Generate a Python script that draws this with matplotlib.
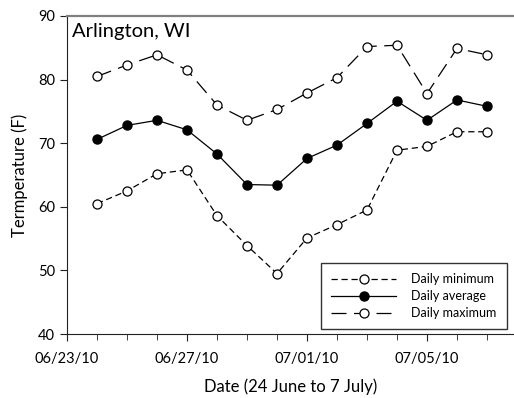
import numpy as np
import matplotlib
matplotlib.use('Agg')
import matplotlib.pyplot as plt
import matplotlib.dates as mdates
import datetime as dt

# daily temps at Arlington, WI, 24 June - 7 July 2010
days = [dt.date(2010, 6, 24) + dt.timedelta(days=i) for i in range(14)]
t_min = [60.5, 62.5, 65.2, 65.8, 58.6, 53.9, 49.5, 55.1, 57.2, 59.5, 68.9, 69.5, 71.8, 71.8]
t_avg = [70.6, 72.8, 73.6, 72.1, 68.3, 63.5, 63.4, 67.6, 69.7, 73.1, 76.6, 73.6, 76.8, 75.8]
t_max = [80.5, 82.3, 83.9, 81.5, 76.0, 73.6, 75.3, 77.9, 80.3, 85.2, 85.4, 77.8, 84.9, 83.9]

plt.rcParams['font.family'] = ['Lato', 'DejaVu Sans']

fig = plt.figure(figsize=(5.14, 3.98), dpi=100)
ax = fig.add_axes([0.1304, 0.1608, 0.8696, 0.799])

ax.plot(days, t_min, color='black', lw=0.9, dashes=(5, 3), marker='o', ms=6.5,
        mfc='white', mec='black', mew=0.9, label='Daily minimum')
ax.plot(days, t_avg, color='black', lw=0.9, marker='o', ms=6.5,
        mfc='black', mec='black', label='Daily average')
ax.plot(days, t_max, color='black', lw=0.9, dashes=(12, 6), marker='o', ms=6.5,
        mfc='white', mec='black', mew=0.9, label='Daily maximum')

ax.set_ylim(40, 90)
ax.set_yticks([40, 50, 60, 70, 80, 90])
start = mdates.date2num(dt.date(2010, 6, 23))
ax.set_xlim(start, start + 14.9)
ax.xaxis.set_major_locator(mdates.DayLocator(bymonthday=[23, 27, 1, 5]))
ax.xaxis.set_minor_locator(mdates.DayLocator())
ax.xaxis.set_major_formatter(mdates.DateFormatter('%m/%d/%y'))

ax.tick_params(axis='both', which='both', direction='out', labelsize=10.5, color='#222222')
ax.tick_params(axis='both', which='major', length=5)
ax.tick_params(axis='x', which='minor', length=4)
ax.tick_params(axis='x', pad=8)

ax.spines['right'].set_visible(False)
ax.spines['top'].set_color('#808080')
ax.spines['top'].set_linewidth(1.6)
ax.spines['left'].set_color('#222222')
ax.spines['bottom'].set_color('#222222')

ax.set_ylabel('Termperature (F)', fontsize=12, labelpad=7)
ax.set_xlabel('Date (24 June to 7 July)', fontsize=12, labelpad=9)
ax.text(0.012, 0.978, 'Arlington, WI', transform=ax.transAxes, fontsize=14.5,
        ha='left', va='top')

leg = ax.legend(loc='lower right', fontsize=9, handlelength=5.2, frameon=True,
                fancybox=False, edgecolor='black', borderpad=0.8, labelspacing=0.4,
                handletextpad=1.2, borderaxespad=0, bbox_to_anchor=(0.984, 0.016))
leg.get_frame().set_linewidth(1.0)

fig.savefig('out.png', dpi=100)
